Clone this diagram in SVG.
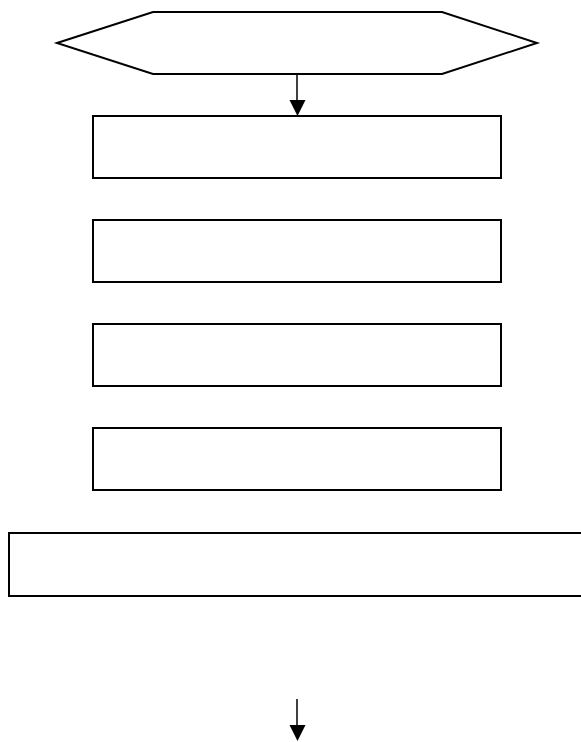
<svg xmlns="http://www.w3.org/2000/svg" width="581" height="742" viewBox="0 0 581 742">
<style>
.n{fill:#fff;stroke:#000;stroke-width:2}
.c{stroke:#000;stroke-width:1.5;fill:none}
.h{fill:#000;stroke:none}
</style>
<rect width="581" height="742" fill="#fff"/>
<g id="start"><polygon class="n" points="57,43 153,12 442,12 537,43 442,74 153,74"/></g>
<g id="box1"><rect class="n" x="93" y="116" width="408" height="62"/></g>
<g id="box2"><rect class="n" x="93" y="220" width="408" height="62"/></g>
<g id="box3"><rect class="n" x="93" y="324" width="408" height="62"/></g>
<g id="box4"><rect class="n" x="93" y="428" width="408" height="62"/></g>
<g id="box5"><rect class="n" x="9" y="533" width="580" height="63"/></g>
<g id="connectors">
<line class="c" x1="297" y1="74" x2="297" y2="101"/>
<polygon class="h" points="289.5,100 305.5,100 297.5,116"/>
<line class="c" x1="297" y1="699" x2="297" y2="726"/>
<polygon class="h" points="289.5,725 305.5,725 297.5,741"/>
</g>
</svg>
